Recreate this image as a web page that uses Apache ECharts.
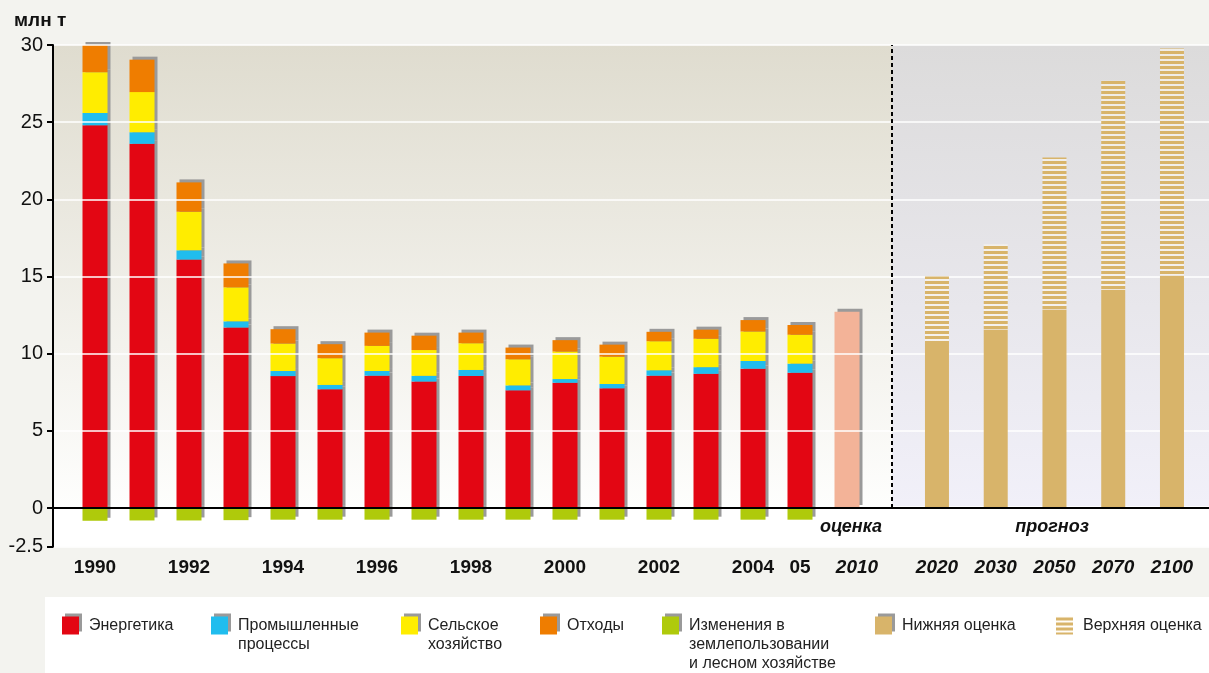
<!DOCTYPE html>
<html>
<head>
<meta charset="utf-8">
<title>Выбросы парниковых газов</title>
<script src="https://cdn.jsdelivr.net/npm/echarts@6/dist/echarts.min.js"></script>
<style>
  html, body { margin: 0; padding: 0; background: #f3f3ef; }
  #chart { width: 1209px; height: 673px; }
</style>
</head>
<body>
<div id="chart"></div>
<script>
// данные (млн т)
var years = ['1990', '1991', '1992', '1993', '1994', '1995', '1996', '1997', '1998', '1999',
             '2000', '2001', '2002', '2003', '2004', '2005', '2010'];
var energy      = [24.8, 23.6, 16.1, 11.7, 8.55, 7.7, 8.58, 8.2, 8.56, 7.63, 8.12, 7.76, 8.58, 8.7, 9.03, 8.77, null];
var industry    = [0.8, 0.75, 0.6, 0.4, 0.33, 0.28, 0.3, 0.37, 0.39, 0.32, 0.24, 0.28, 0.35, 0.43, 0.5, 0.59, null];
var agriculture = [2.64, 2.6, 2.5, 2.2, 1.78, 1.73, 1.63, 1.67, 1.73, 1.69, 1.78, 1.77, 1.88, 1.84, 1.91, 1.87, null];
var waste       = [1.8, 2.1, 1.9, 1.55, 0.93, 0.91, 0.86, 0.93, 0.69, 0.76, 0.74, 0.78, 0.61, 0.59, 0.74, 0.63, null];
var landUse     = [-0.82, -0.8, -0.8, -0.78, -0.75, -0.75, -0.75, -0.75, -0.75, -0.75, -0.75, -0.75, -0.75, -0.75, -0.75, -0.75, null];
var estimate2010 = [null, null, null, null, null, null, null, null, null, null, null, null, null, null, null, null, 12.72];

var forecastYears = ['2020', '2030', '2050', '2070', '2100'];
var lowerEstimate = [10.7, 11.57, 12.87, 14.15, 15.06];
var upperEstimate = [15.0, 17.1, 22.72, 27.68, 29.78];

var yTicks = [-2.5, 0, 5, 10, 15, 20, 25, 30];

var FONT = '"Liberation Sans", Arial, sans-serif';
var shadow3d = { shadowColor: '#9a9a9a', shadowOffsetX: 3, shadowOffsetY: -3, shadowBlur: 0 };

// полоски для верхней оценки
var stripe = document.createElement('canvas');
stripe.width = 6; stripe.height = 5;
var sctx = stripe.getContext('2d');
sctx.fillStyle = 'rgba(255,250,238,0.55)';
sctx.fillRect(0, 0, 6, 5);
sctx.fillStyle = '#d8b46a';
sctx.fillRect(0, 1, 6, 3);
var stripeFill = { image: stripe, repeat: 'repeat' };

var upperPart = upperEstimate.map(function (v, i) { return +(v - lowerEstimate[i]).toFixed(2); });

var myChart = echarts.init(document.getElementById('chart'));

function histBar(name, data, color, z) {
    return {
        name: name, type: 'bar', stack: 'hist',
        xAxisIndex: 2, yAxisIndex: 2,
        barWidth: 25, z: z || 2,
        itemStyle: Object.assign({ color: color }, shadow3d),
        data: data
    };
}

// квадратик сверху, текст в несколько строк ниже
var LINE_H = 19;
function legendItem(name, left, lines, style, icon) {
    var h = lines * LINE_H - 1;
    return {
        data: [name], left: left, top: 616, padding: 0,
        orient: 'vertical', itemGap: 0,
        itemWidth: 17, itemHeight: lines > 1 ? h : 18,
        icon: icon || (lines > 1
            ? 'path://M0,0h17v18h-17z M0,' + (h - 0.01) + 'h0.01v0.01h-0.01z'
            : 'rect'),
        selectedMode: false,
        itemStyle: style,
        textStyle: {
            fontFamily: FONT, fontSize: 16, color: '#222', lineHeight: LINE_H,
            padding: [0, 0, 0, 5]
        }
    };
}

var option = {
    backgroundColor: '#f3f3ef',
    animation: false,
    title: {
        text: 'млн т', left: 9, top: 6,
        textStyle: { fontFamily: FONT, fontSize: 19, fontWeight: 'bold', color: '#111' }
    },
    graphic: [
        { type: 'rect', shape: { x: 45, y: 597, width: 1164, height: 76 }, style: { fill: '#fff' }, z: -10 },
        { type: 'text', x: 851, y: 527, style: { text: 'оценка', fill: '#111', font: 'italic bold 18px ' + FONT, textAlign: 'center', textVerticalAlign: 'middle' } },
        { type: 'text', x: 1052, y: 527, style: { text: 'прогноз', fill: '#111', font: 'italic bold 18px ' + FONT, textAlign: 'center', textVerticalAlign: 'middle' } }
    ],
    grid: [
        { left: 53, top: 45, width: 839, height: 501.7, show: true, borderWidth: 0,
          backgroundColor: { type: 'linear', x: 0, y: 0, x2: 0, y2: 1, colorStops: [
              { offset: 0, color: '#dfdccf' }, { offset: 0.919, color: '#fefefd' },
              { offset: 0.92, color: '#ffffff' }, { offset: 1, color: '#ffffff' }] } },
        { left: 892, top: 45, right: 0, height: 501.7, show: true, borderWidth: 0,
          backgroundColor: { type: 'linear', x: 0, y: 0, x2: 0, y2: 1, colorStops: [
              { offset: 0, color: '#dcdbdb' }, { offset: 0.919, color: '#f1f0f9' },
              { offset: 0.92, color: '#ffffff' }, { offset: 1, color: '#ffffff' }] } },
        { left: 71.5, top: 45, width: 799, height: 501.7 },
        { left: 907.6, top: 45, width: 293.75, height: 501.7 }
    ],
    xAxis: [
        { gridIndex: 0, type: 'value', min: 0, max: 1, z: 5,
          axisLine: { onZero: true, lineStyle: { color: '#000', width: 2 } },
          axisTick: { show: false }, axisLabel: { show: false }, splitLine: { show: false } },
        { gridIndex: 1, type: 'value', min: 0, max: 1, z: 5,
          axisLine: { onZero: true, lineStyle: { color: '#000', width: 2 } },
          axisTick: { show: false }, axisLabel: { show: false }, splitLine: { show: false } },
        { gridIndex: 2, type: 'category', data: years,
          axisLine: { show: false, onZero: false }, axisTick: { show: false },
          axisLabel: {
              interval: 0, margin: 12, fontFamily: FONT, fontSize: 19, fontWeight: 'bold', color: '#111',
              formatter: function (v, i) {
                  if (i === 16) return '{i|' + v + '}';
                  if (i === 15) return '05';
                  return i % 2 === 0 ? v : '';
              },
              rich: { i: { fontFamily: FONT, fontSize: 19, fontWeight: 'bold', fontStyle: 'italic', color: '#111', padding: [0, 0, 0, 20] } }
          } },
        { gridIndex: 3, type: 'category', data: forecastYears,
          axisLine: { show: false, onZero: false }, axisTick: { show: false },
          axisLabel: { interval: 0, margin: 12, fontFamily: FONT, fontSize: 19, fontWeight: 'bold', fontStyle: 'italic', color: '#111' } }
    ],
    yAxis: [
        { gridIndex: 0, type: 'value', min: -2.5, max: 30, z: 5,
          axisLine: { show: true, lineStyle: { color: '#000', width: 2 } },
          axisTick: { show: true, length: 6, customValues: yTicks, lineStyle: { color: '#000', width: 2 } },
          axisLabel: { customValues: yTicks, margin: 10, fontFamily: FONT, fontSize: 20, color: '#111' },
          splitLine: { show: true, lineStyle: { color: '#ffffff', width: 1.5 } } },
        { gridIndex: 1, type: 'value', min: -2.5, max: 30,
          axisLine: { show: false },
          axisTick: { show: false, customValues: yTicks },
          axisLabel: { show: false, customValues: yTicks },
          splitLine: { show: true, lineStyle: { color: '#ffffff', width: 1.5 } } },
        { gridIndex: 2, type: 'value', min: -2.5, max: 30, show: false, splitLine: { show: false } },
        { gridIndex: 3, type: 'value', min: -2.5, max: 30, show: false, splitLine: { show: false } }
    ],
    legend: [
        legendItem('Энергетика', 62, 1, Object.assign({}, shadow3d)),
        legendItem('Промышленные\nпроцессы', 211, 2, Object.assign({}, shadow3d)),
        legendItem('Сельское\nхозяйство', 401, 2, Object.assign({}, shadow3d)),
        legendItem('Отходы', 540, 1, Object.assign({}, shadow3d)),
        legendItem('Изменения в\nземлепользовании\nи лесном хозяйстве', 662, 3, Object.assign({}, shadow3d)),
        legendItem('Нижняя оценка', 875, 1, Object.assign({}, shadow3d)),
        legendItem('Верхняя оценка', 1056, 1, { shadowColor: 'transparent' })
    ],
    series: [
        histBar('Энергетика', energy, '#e30613'),
        histBar('Промышленные\nпроцессы', industry, '#20bdee'),
        histBar('Сельское\nхозяйство', agriculture, '#ffed00'),
        histBar('Отходы', waste, '#ef7d00'),
        histBar('Изменения в\nземлепользовании\nи лесном хозяйстве', landUse, '#afca0b', 1),
        histBar('оценка 2010', estimate2010, '#f3b398'),
        {
            name: 'Нижняя оценка', type: 'bar', stack: 'forecast',
            xAxisIndex: 3, yAxisIndex: 3, barWidth: 24,
            itemStyle: { color: '#d8b46a' },
            data: lowerEstimate
        },
        {
            name: 'Верхняя оценка', type: 'bar', stack: 'forecast',
            xAxisIndex: 3, yAxisIndex: 3, barWidth: 24,
            itemStyle: { color: stripeFill },
            data: upperPart
        },
        {
            name: 'граница', type: 'line', xAxisIndex: 0, yAxisIndex: 0,
            data: [], silent: true, clip: false,
            markLine: {
                symbol: 'none', silent: true, label: { show: false },
                lineStyle: { type: [4, 3], color: '#000', width: 2 },
                data: [[{ coord: [1, 0] }, { coord: [1, 30] }]]
            }
        }
    ]
};

myChart.setOption(option);
</script>
</body>
</html>
